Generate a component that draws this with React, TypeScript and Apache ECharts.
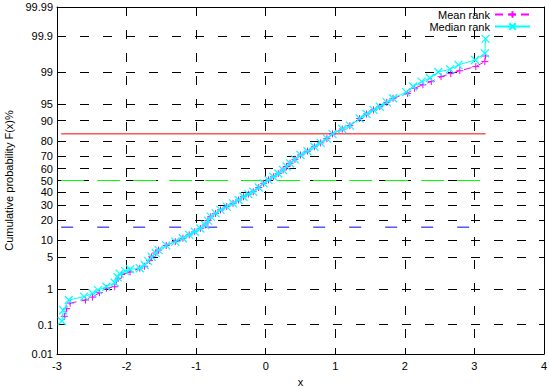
import React, { useEffect, useRef } from "react";
import * as echarts from "echarts";

// Probability axis ticks (percent) and their labels
const yTickProbs = [0.01, 0.1, 1, 5, 10, 20, 30, 40, 50, 60, 70, 80, 90, 95, 99, 99.9, 99.99];
const yTickLabels = ["0.01", "0.1", "1", "5", "10", "20", "30", "40", "50", "60", "70", "80", "90", "95", "99", "99.9", "99.99"];

// Mean rank series (x, cumulative probability %)
const meanRankX = [-2.895, -2.86, -2.81, -2.59, -2.49, -2.39, -2.29, -2.17, -2.12, -2.07, -1.95, -1.81, -1.74, -1.67, -1.64, -1.58, -1.54, -1.43, -1.3, -1.19, -1.1, -1.02, -0.94, -0.87, -0.83, -0.79, -0.72, -0.65, -0.56, -0.47, -0.39, -0.32, -0.25, -0.18, -0.1, -0.03, 0.04, 0.11, 0.18, 0.25, 0.3, 0.35, 0.42, 0.5, 0.6, 0.7, 0.79, 0.88, 0.96, 1.1, 1.21, 1.35, 1.45, 1.55, 1.64, 1.74, 1.83, 2.04, 2.14, 2.26, 2.38, 2.52, 2.66, 2.79, 3.02, 3.15, 3.16];
const meanRankP = [0.18, 0.3, 0.43, 0.52, 0.62, 0.81, 1.04, 1.14, 1.8, 2.2, 2.5, 3.0, 3.3, 4.3, 5.1, 6.0, 6.8, 8.2, 9.5, 10.8, 12.2, 13.6, 15.2, 17.0, 19.5, 21.9, 24.0, 26.4, 28.8, 31.2, 33.8, 36.4, 38.5, 40.5, 44.0, 47.6, 50.5, 53.2, 56.0, 58.9, 61.8, 64.4, 67.5, 70.8, 73.5, 76.5, 79.0, 81.5, 84.1, 86.5, 88.0, 90.8, 92.3, 93.5, 94.3, 95.3, 96.1, 96.9, 97.6, 98.0, 98.3, 98.7, 98.9, 99.07, 99.27, 99.46, 99.62];

// Median rank series (x, cumulative probability %)
const medianRankX = [-2.93, -2.91, -2.83, -2.61, -2.49, -2.41, -2.29, -2.17, -2.13, -2.1, -2.02, -1.95, -1.81, -1.74, -1.69, -1.64, -1.58, -1.54, -1.43, -1.3, -1.19, -1.1, -1.02, -0.94, -0.87, -0.83, -0.79, -0.72, -0.65, -0.56, -0.47, -0.39, -0.32, -0.25, -0.18, -0.1, -0.03, 0.04, 0.11, 0.18, 0.25, 0.3, 0.35, 0.42, 0.5, 0.6, 0.7, 0.79, 0.88, 0.96, 1.1, 1.21, 1.35, 1.45, 1.55, 1.64, 1.74, 1.83, 2.02, 2.12, 2.24, 2.36, 2.48, 2.65, 2.77, 3.01, 3.15, 3.16];
const medianRankP = [0.13, 0.27, 0.52, 0.64, 0.78, 0.94, 1.14, 1.42, 1.9, 2.3, 2.6, 2.85, 3.0, 3.5, 4.2, 5.1, 6.0, 6.8, 8.2, 9.5, 10.8, 12.2, 13.6, 15.2, 17.0, 19.5, 21.9, 24.0, 26.4, 28.8, 31.2, 33.8, 36.4, 38.5, 40.5, 44.0, 47.6, 50.5, 53.2, 56.0, 58.9, 61.8, 64.4, 67.5, 70.8, 73.5, 76.5, 79.0, 81.5, 84.1, 86.5, 88.0, 90.8, 92.3, 93.5, 94.3, 95.3, 96.1, 97.1, 97.8, 98.3, 98.6, 99.0, 99.14, 99.34, 99.51, 99.68, 99.88];

// Reference lines: mean - sigma, mean, mean + sigma (percent) and their x extent
const refLineX = [-2.94, 3.16];
const refLineP = [15.87, 50, 84.13];
const refLineColors = ["#0000ee", "#00ff00", "#ff0000"];

// inverse standard normal CDF (probability scale transform)
function probit(p: number): number {
  const a = [-3.969683028665376e1, 2.209460984245205e2, -2.759285104469687e2, 1.38357751867269e2, -3.066479806614716e1, 2.506628277459239];
  const b = [-5.447609879822406e1, 1.615858368580409e2, -1.556989798598866e2, 6.680131188771972e1, -1.328068155288572e1];
  const c = [-7.784894002430293e-3, -3.223964580411365e-1, -2.400758277161838, -2.549732539343734, 4.374664141464968, 2.938163982698783];
  const d = [7.784695709041462e-3, 3.224671290700398e-1, 2.445134137142996, 3.754408661907416];
  const pl = 0.02425;
  if (p < pl) {
    const q = Math.sqrt(-2 * Math.log(p));
    return (((((c[0] * q + c[1]) * q + c[2]) * q + c[3]) * q + c[4]) * q + c[5]) / ((((d[0] * q + d[1]) * q + d[2]) * q + d[3]) * q + 1);
  }
  if (p <= 1 - pl) {
    const q = p - 0.5;
    const r = q * q;
    return ((((((a[0] * r + a[1]) * r + a[2]) * r + a[3]) * r + a[4]) * r + a[5]) * q) / (((((b[0] * r + b[1]) * r + b[2]) * r + b[3]) * r + b[4]) * r + 1);
  }
  const q = Math.sqrt(-2 * Math.log(1 - p));
  return -(((((c[0] * q + c[1]) * q + c[2]) * q + c[3]) * q + c[4]) * q + c[5]) / ((((d[0] * q + d[1]) * q + d[2]) * q + d[3]) * q + 1);
}

const z = (pct: number) => probit(pct / 100);

export default function App() {
  const ref = useRef<HTMLDivElement>(null);
  useEffect(() => {
    if (!ref.current) return;
    const chart = echarts.init(ref.current, undefined, { renderer: "svg" });
    const zTicks = yTickProbs.map(z);
    const zMin = zTicks[0];
    const zMax = zTicks[zTicks.length - 1];
    const fmt = (v: number) => {
      let best = 0;
      let bd = Infinity;
      zTicks.forEach((t, i) => {
        const dd = Math.abs(t - v);
        if (dd < bd) {
          bd = dd;
          best = i;
        }
      });
      return yTickLabels[best];
    };
    const font = "Liberation Sans, Arial, sans-serif";
    const gridDash = { color: "#000", width: 1, type: [9, 14] as any };
    const axisLine = { show: true, onZero: false, lineStyle: { color: "#000", width: 1 } };

    const refSeries = refLineP.map((p, i) => ({
      type: "line",
      silent: true,
      symbol: "none",
      data: refLineX.map((x) => [x, z(p)]),
      lineStyle: {
        color: refLineColors[i],
        width: 1,
        type: i === 0 ? [12, 24] : i === 1 ? [23, 13] : "solid",
      },
      z: 1,
    }));

    chart.setOption({
      animation: false,
      backgroundColor: "#fff",
      textStyle: { fontFamily: font },
      grid: { left: 57, right: 5, top: 7, bottom: 35, containLabel: false, outerBoundsMode: "none" },
      legend: {
        data: ["Mean rank", "Median rank"],
        orient: "vertical",
        align: "right",
        right: 13,
        top: 4,
        itemWidth: 35,
        itemHeight: 8,
        itemGap: 1,
        textStyle: { fontSize: 11, color: "#000", fontFamily: font, lineHeight: 11 },
      },
      xAxis: [
        {
          type: "value",
          min: -3,
          max: 4,
          interval: 1,
          position: "bottom",
          name: "x",
          nameLocation: "middle",
          nameGap: 22,
          nameTextStyle: { fontSize: 11, color: "#000", fontFamily: font },
          axisLine,
          axisTick: { show: true, inside: true, length: 6, lineStyle: { color: "#000" } },
          axisLabel: { fontSize: 11, color: "#000", margin: 6, fontFamily: font },
          splitLine: { show: true, lineStyle: gridDash },
        },
        {
          type: "value",
          min: -3,
          max: 4,
          interval: 1,
          position: "top",
          axisLine,
          axisTick: { show: true, inside: true, length: 6, lineStyle: { color: "#000" } },
          axisLabel: { show: false },
          splitLine: { show: false },
        },
      ],
      yAxis: [
        {
          type: "value",
          min: zMin,
          max: zMax,
          position: "left",
          name: "Cumulative probability F(x)%",
          nameLocation: "middle",
          nameGap: 43,
          nameTextStyle: { fontSize: 11, color: "#000", fontFamily: font },
          axisLine,
          axisTick: { show: true, inside: true, length: 5, customValues: zTicks, lineStyle: { color: "#000" } },
          axisLabel: { fontSize: 11, color: "#000", margin: 4, customValues: zTicks, formatter: fmt, fontFamily: font },
          splitLine: { show: true, lineStyle: gridDash },
        },
        {
          type: "value",
          min: zMin,
          max: zMax,
          position: "right",
          axisLine,
          axisTick: { show: true, inside: true, length: 5, customValues: zTicks, lineStyle: { color: "#000" } },
          axisLabel: { show: false, customValues: zTicks },
          splitLine: { show: false },
        },
      ],
      series: [
        ...refSeries,
        {
          name: "Mean rank",
          type: "line",
          data: meanRankX.map((x, i) => [x, z(meanRankP[i])]),
          symbol: "path://M0,5L10,5M5,0L5,10",
          symbolSize: 7,
          showAllSymbol: true,
          lineStyle: { color: "#ff00ff", width: 1, type: [8, 5] },
          itemStyle: { color: "#ff00ff", borderColor: "#ff00ff", borderWidth: 1 },
          z: 2,
        },
        {
          name: "Median rank",
          type: "line",
          data: medianRankX.map((x, i) => [x, z(medianRankP[i])]),
          symbol: "path://M0,0L10,10M10,0L0,10",
          symbolSize: 8,
          showAllSymbol: true,
          lineStyle: { color: "#00ffff", width: 1 },
          itemStyle: { color: "#00ffff", borderColor: "#00ffff", borderWidth: 1.2 },
          z: 3,
        },
      ],
    });
    return () => chart.dispose();
  }, []);
  return <div ref={ref} style={{ position: "fixed", left: 0, top: 0, width: 549, height: 389 }} />;
}
